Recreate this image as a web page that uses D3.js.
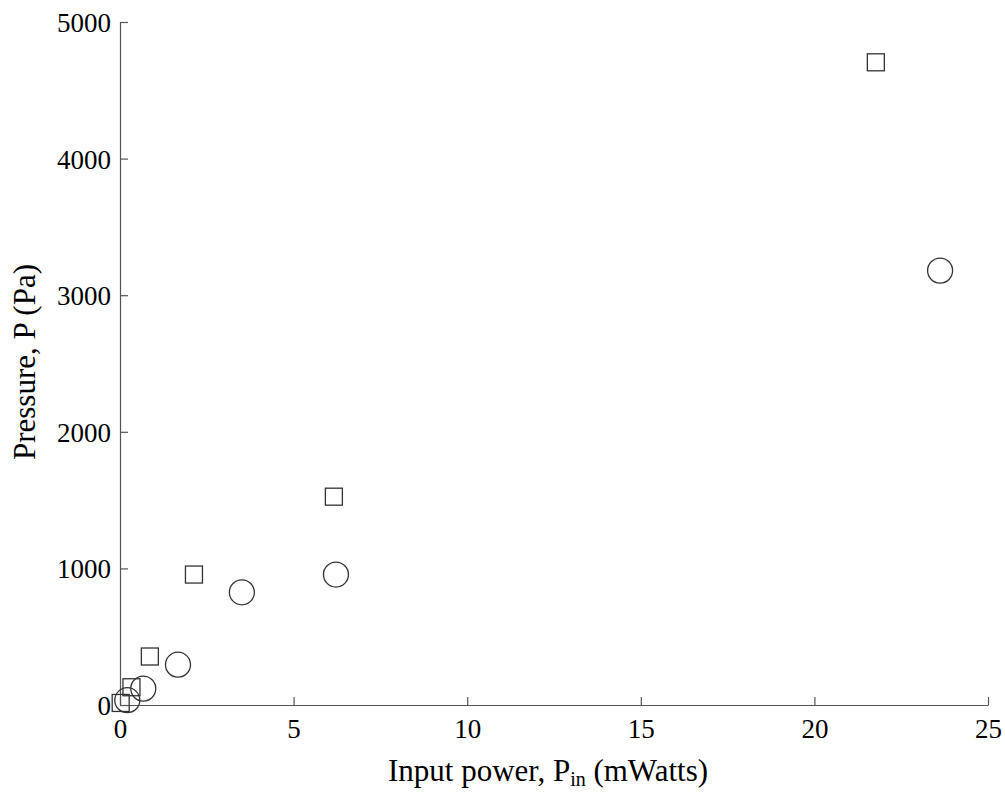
<!DOCTYPE html>
<html>
<head>
<meta charset="utf-8">
<script src="https://cdn.jsdelivr.net/npm/d3@7"></script>
<style>
  body { margin: 0; background: #fff; }
  text { font-family: "Liberation Serif", "Times New Roman", serif; fill: #000; }
</style>
</head>
<body>
<svg id="chart" width="1005" height="794"></svg>
<script>
// input power (mW) and pressure (Pa)
const squareX = [0.02, 0.33, 0.86, 2.13, 6.16, 21.77];
const squareY = [15, 130, 355, 955, 1525, 4705];
const circleX = [0.21, 0.67, 1.67, 3.51, 6.22, 23.62];
const circleY = [35, 120, 295, 825, 955, 3180];
const xTicks = [0, 5, 10, 15, 20, 25];
const yTicks = [0, 1000, 2000, 3000, 4000, 5000];

const svg = d3.select('#chart');
const m = { left: 120, right: 988, top: 22, bottom: 705 };

const x = d3.scaleLinear().domain([0, 25]).range([m.left, m.right]);
const y = d3.scaleLinear().domain([0, 5000]).range([m.bottom, m.top]);

const xAxis = svg.append('g')
    .attr('transform', `translate(0,${m.bottom})`)
    .call(d3.axisBottom(x).tickValues(xTicks).tickFormat(d3.format('d'))
        .tickSize(-8).tickPadding(14).tickSizeOuter(0));
const yAxis = svg.append('g')
    .attr('transform', `translate(${m.left},0)`)
    .call(d3.axisLeft(y).tickValues(yTicks).tickFormat(d3.format('d'))
        .tickSize(-8).tickPadding(9).tickSizeOuter(0));

[xAxis, yAxis].forEach(a => {
    a.attr('font-family', null);
    a.select('.domain').attr('stroke', '#555').attr('stroke-width', 1.2);
    a.selectAll('.tick line').attr('stroke', '#555').attr('stroke-width', 1.2);
    a.selectAll('.tick text')
        .attr('font-size', 27)
        .attr('fill', '#000');
});
yAxis.selectAll('.tick text').attr('dy', '0.35em');

svg.append('g').selectAll('rect')
    .data(d3.zip(squareX, squareY))
    .enter()
    .append('rect')
    .attr('x', d => x(d[0]) - 8.5)
    .attr('y', d => y(d[1]) - 8.5)
    .attr('width', 17)
    .attr('height', 17)
    .attr('fill', 'none')
    .attr('stroke', '#333')
    .attr('stroke-width', 1.3);

svg.append('g').selectAll('circle')
    .data(d3.zip(circleX, circleY))
    .enter()
    .append('circle')
    .attr('cx', d => x(d[0]))
    .attr('cy', d => y(d[1]))
    .attr('r', 12.5)
    .attr('fill', 'none')
    .attr('stroke', '#333')
    .attr('stroke-width', 1.3);

// axis titles
const xt = svg.append('text')
    .attr('x', 548)
    .attr('y', 781)
    .attr('text-anchor', 'middle')
    .attr('font-size', 31);
xt.append('tspan').text('Input power, P');
xt.append('tspan').attr('font-size', 20).attr('dy', 5).text('in');
xt.append('tspan').attr('dy', -5).text(' (mWatts)');

svg.append('text')
    .attr('transform', `translate(35,362) rotate(-90)`)
    .attr('text-anchor', 'middle')
    .attr('font-size', 31)
    .text('Pressure, P (Pa)');
</script>
</body>
</html>
